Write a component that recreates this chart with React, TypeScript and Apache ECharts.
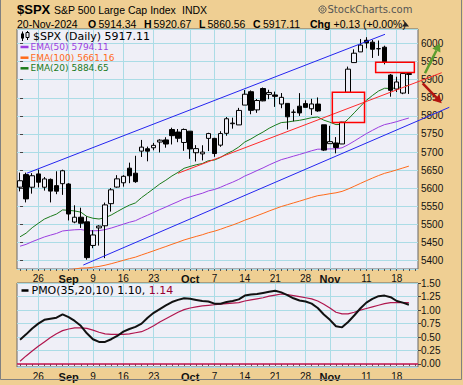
import React, { useEffect, useRef } from 'react';
import * as echarts from 'echarts';

// ---------- data ----------
const dates = ['2024-08-21','2024-08-22','2024-08-23','2024-08-26','2024-08-27','2024-08-28','2024-08-29','2024-08-30','2024-09-03','2024-09-04','2024-09-05','2024-09-06','2024-09-09','2024-09-10','2024-09-11','2024-09-12','2024-09-13','2024-09-16','2024-09-17','2024-09-18','2024-09-19','2024-09-20','2024-09-23','2024-09-24','2024-09-25','2024-09-26','2024-09-27','2024-09-30','2024-10-01','2024-10-02','2024-10-03','2024-10-04','2024-10-07','2024-10-08','2024-10-09','2024-10-10','2024-10-11','2024-10-14','2024-10-15','2024-10-16','2024-10-17','2024-10-18','2024-10-21','2024-10-22','2024-10-23','2024-10-24','2024-10-25','2024-10-28','2024-10-29','2024-10-30','2024-10-31','2024-11-01','2024-11-04','2024-11-05','2024-11-06','2024-11-07','2024-11-08','2024-11-11','2024-11-12','2024-11-13','2024-11-14','2024-11-15','2024-11-18','2024-11-19','2024-11-20'];

const open = [5603.09,5637.77,5602.89,5639.66,5602.89,5624.51,5607.30,5612.74,5611.85,5506.68,5520.08,5507.33,5442.07,5490.51,5496.42,5557.48,5603.34,5615.21,5655.51,5641.68,5702.63,5709.15,5711.90,5727.72,5733.65,5762.22,5755.36,5726.52,5757.73,5698.19,5695.00,5737.89,5737.80,5719.14,5751.80,5778.36,5775.09,5829.81,5866.74,5816.58,5875.62,5859.43,5857.82,5832.70,5834.50,5810.34,5826.75,5833.93,5819.68,5832.65,5775.34,5723.22,5725.15,5722.43,5864.89,5947.21,5976.76,6008.86,6003.60,5985.75,5989.68,5912.79,5874.17,5863.00,5914.34];
const high = [5643.22,5643.17,5641.82,5651.62,5631.18,5627.03,5646.95,5651.37,5614.09,5552.99,5546.30,5522.47,5484.20,5497.91,5560.41,5600.71,5636.27,5636.05,5670.81,5689.75,5733.57,5715.14,5725.36,5735.32,5741.03,5767.37,5763.78,5765.14,5757.73,5719.14,5718.78,5753.32,5739.34,5757.60,5796.80,5795.03,5822.13,5871.41,5870.36,5846.52,5878.46,5872.17,5866.92,5863.04,5834.85,5817.80,5862.82,5842.92,5847.19,5850.94,5775.34,5772.52,5741.43,5783.44,5936.14,5983.84,6012.45,6017.31,6009.92,6008.19,5993.88,5915.59,5908.12,5917.03,5920.67];
const low = [5591.37,5560.95,5585.16,5602.34,5593.48,5560.95,5583.71,5581.79,5511.14,5503.41,5490.45,5402.62,5434.49,5441.72,5406.96,5535.50,5601.65,5604.53,5614.05,5615.08,5686.42,5674.49,5704.94,5698.99,5712.06,5721.01,5727.34,5703.53,5681.28,5674.00,5677.02,5702.83,5686.85,5714.56,5745.02,5764.76,5775.09,5829.81,5804.48,5808.34,5840.25,5846.11,5824.83,5821.17,5762.41,5784.92,5799.98,5823.08,5802.29,5811.28,5702.86,5723.22,5696.51,5722.10,5864.89,5947.21,5976.76,5986.69,5960.08,5965.91,5942.28,5853.01,5865.95,5860.00,5860.56];
const close = [5620.85,5570.64,5634.61,5616.84,5625.80,5592.18,5591.96,5648.40,5528.93,5520.07,5503.41,5408.42,5471.05,5495.52,5554.13,5595.76,5626.02,5633.09,5634.58,5618.26,5713.64,5702.55,5718.57,5732.93,5722.26,5745.37,5738.17,5762.48,5708.75,5709.54,5699.94,5751.07,5695.94,5751.13,5792.04,5780.05,5815.03,5859.85,5815.26,5842.47,5841.47,5864.67,5853.98,5851.20,5797.42,5809.86,5808.12,5823.52,5832.92,5813.67,5705.45,5728.80,5712.69,5782.76,5929.04,5973.10,5995.54,6001.35,5983.99,5985.38,5949.17,5870.62,5893.62,5916.98,5917.11];

const ema20 = [5466.0,5476.0,5491.1,5503.1,5514.8,5522.2,5528.8,5540.2,5539.1,5537.3,5534.1,5522.1,5517.2,5515.1,5518.8,5526.1,5535.6,5544.9,5553.4,5559.6,5574.3,5586.5,5599.1,5611.8,5622.3,5634.0,5643.9,5655.2,5660.3,5665.0,5668.3,5676.2,5678.1,5685.1,5695.3,5703.4,5714.0,5727.9,5736.2,5746.3,5755.4,5765.8,5774.2,5781.5,5783.0,5785.6,5787.7,5791.1,5795.1,5796.9,5788.2,5782.5,5775.9,5776.6,5791.1,5808.4,5826.2,5842.9,5856.3,5868.6,5876.3,5875.8,5877.5,5881.3,5884.65];
const ema50 = [5440.0,5445.1,5452.5,5459.0,5465.5,5470.5,5475.2,5482.0,5483.9,5485.3,5486.0,5483.0,5482.5,5483.0,5485.8,5490.1,5495.4,5500.8,5506.1,5510.5,5518.5,5525.7,5533.3,5541.1,5548.2,5555.9,5563.1,5570.9,5576.3,5581.5,5586.2,5592.7,5596.7,5602.8,5610.2,5616.9,5624.6,5633.9,5641.0,5648.9,5656.4,5664.6,5672.0,5679.1,5683.7,5688.7,5693.4,5698.5,5703.7,5708.0,5707.9,5708.8,5708.9,5711.8,5720.3,5730.2,5740.6,5750.9,5760.0,5768.8,5775.9,5779.6,5784.1,5789.3,5794.11];
const ema100 = [5334.7,5339.4,5345.2,5350.6,5356.0,5360.7,5365.3,5370.9,5374.0,5377.0,5379.5,5380.0,5381.8,5384.1,5387.5,5391.6,5396.2,5400.9,5405.6,5409.8,5415.8,5421.5,5427.3,5433.3,5439.1,5445.2,5451.0,5457.2,5462.2,5467.0,5471.6,5477.2,5481.5,5486.8,5492.9,5498.5,5504.9,5511.9,5517.9,5524.3,5530.6,5537.3,5543.5,5549.6,5554.5,5559.5,5564.4,5569.6,5574.8,5579.5,5582.0,5585.0,5587.5,5591.4,5598.0,5605.5,5613.2,5620.8,5628.1,5635.1,5641.3,5645.8,5650.8,5656.0,5661.16];

const pmo = [0.45,0.55,0.66,0.75,0.82,0.84,0.86,0.92,0.87,0.80,0.71,0.57,0.46,0.41,0.41,0.46,0.52,0.60,0.65,0.69,0.75,0.86,0.95,1.02,1.09,1.15,1.19,1.22,1.21,1.19,1.17,1.16,1.12,1.12,1.15,1.17,1.20,1.27,1.29,1.30,1.32,1.34,1.36,1.33,1.28,1.22,1.18,1.16,1.12,1.04,0.92,0.82,0.70,0.68,0.78,0.90,1.03,1.14,1.21,1.26,1.27,1.24,1.17,1.14,1.10];
const pmoSignal = [0.05,0.15,0.24,0.33,0.41,0.49,0.56,0.62,0.65,0.67,0.67,0.66,0.63,0.59,0.56,0.55,0.55,0.55,0.56,0.58,0.60,0.65,0.71,0.78,0.84,0.90,0.96,1.01,1.04,1.06,1.08,1.09,1.10,1.11,1.12,1.13,1.14,1.17,1.19,1.21,1.23,1.26,1.28,1.30,1.29,1.27,1.25,1.23,1.21,1.17,1.11,1.04,0.96,0.93,0.93,0.96,1.00,1.03,1.06,1.09,1.12,1.14,1.14,1.14,1.14];

const tickDates = ['2024-08-26','2024-09-03','2024-09-09','2024-09-16','2024-09-23','2024-10-01','2024-10-07','2024-10-14','2024-10-21','2024-10-28','2024-11-01','2024-11-11','2024-11-18'];
const tickLabels = ['26','Sep','9','16','23','Oct','7','14','21','28','Nov','11','18'];
const monthLabels = ['Sep','Oct','Nov'];

// annotations in data space: [dayIndex, price]
const upperChannel = [[1.1, 5641.4], [60.07, 6025.4]];
const lowerChannel = [[10.41, 5388], [70.65, 5823.7]];
const redTrend = [[26.0, 5641.4], [69.4, 5919.3]];
const boxA = [[51.4, 5865], [56.7, 5782]];
const boxB = [[58.53, 5948], [64.9, 5920]];
const upArrow = [[66.65, 5917.7], [69.12, 6000.5]];
const downArrow = [[66.27, 5890], [69.4, 5834.8]];

const header = { symbol: '$SPX', name: 'S&P 500 Large Cap Index', exch: 'INDX', date: '20-Nov-2024', o: '5914.34', h: '5920.67', l: '5860.56', c: '5917.11', chg: '+0.13 (+0.00%)', site: 'StockCharts.com' };

// ---------- styles ----------
const TAN = '#EFCF93';
const PLOT = '#EFEFF7';
const GRIDC = '#ABDCE6';
const C_EMA50 = '#9B3DE0';
const C_EMA100 = '#FF6A1A';
const C_EMA20 = '#1A7A1A';
const C_BLUE = '#2525F0';
const C_RED = '#FF2A2A';
const C_SIG = '#B0164E';
const AXF = 'Liberation Sans';

const cats = [...dates, ''];
const labelByIndex = new Map<number, string>();
tickDates.forEach((d, i) => labelByIndex.set(dates.indexOf(d), tickLabels[i]));

function xAxisCfg(gridIndex: number) {
  return {
    type: 'category', gridIndex, data: cats, boundaryGap: true,
    axisLine: { show: false },
    axisTick: { show: true, alignWithLabel: true, interval: 0, length: 2, lineStyle: { color: '#555' } },
    axisLabel: {
      interval: (i: number) => labelByIndex.has(i),
      formatter: (_v: string, i: number) => {
        const t = labelByIndex.get(i) || '';
        return monthLabels.includes(t) ? `{m|${t}}` : t;
      },
      margin: 4, color: '#111', fontFamily: AXF, fontSize: 10,
      rich: { m: { fontFamily: AXF, fontSize: 11, fontWeight: 'bold', color: '#111' } },
    },
    splitLine: { show: true, interval: (i: number) => labelByIndex.has(i), alignWithLabel: true, lineStyle: { color: GRIDC, width: 1 } },
  };
}

const option: any = {
  animation: false,
  backgroundColor: TAN,
  grid: [
    { left: 17, top: 29, width: 401, height: 240, show: true, backgroundColor: PLOT, borderColor: '#666', borderWidth: 1 },
    { left: 17, top: 283, width: 401, height: 84, show: true, backgroundColor: PLOT, borderColor: '#666', borderWidth: 1 },
  ],
  xAxis: [
    xAxisCfg(0),
    xAxisCfg(1),
    { type: 'value', gridIndex: 0, min: -0.5, max: 65.5, show: false },
  ],
  yAxis: [
    {
      type: 'value', gridIndex: 0, position: 'right', min: 5377, max: 6040, minInterval: 50, maxInterval: 50,
      axisLine: { show: false },
      axisTick: { show: true, length: 3, lineStyle: { color: '#444' } },
      axisLabel: { margin: 3, showMinLabel: false, showMaxLabel: false, color: '#111', fontFamily: AXF, fontSize: 10,
        formatter: (v: number) => (Math.abs(v % 50) < 1e-6 ? String(v) : '') },
      splitLine: { show: true, lineStyle: { color: GRIDC, width: 1 } },
    },
    {
      type: 'value', gridIndex: 1, position: 'right', min: -0.056, max: 1.504, minInterval: 0.25, maxInterval: 0.25,
      axisLine: { show: false },
      axisTick: { show: true, length: 3, lineStyle: { color: '#444' } },
      axisLabel: { margin: 3, showMinLabel: false, showMaxLabel: false, color: '#111', fontFamily: AXF, fontSize: 10,
        formatter: (v: number) => (Math.abs((v * 4) - Math.round(v * 4)) < 1e-6 ? v.toFixed(2) : '') },
      splitLine: { show: true, lineStyle: { color: GRIDC, width: 1 } },
    },
  ],
  series: [
    { type: 'line', name: 'EMA100', xAxisIndex: 0, yAxisIndex: 0, data: ema100, symbol: 'none', z: 2, lineStyle: { color: C_EMA100, width: 1 } },
    { type: 'line', name: 'EMA50', xAxisIndex: 0, yAxisIndex: 0, data: ema50, symbol: 'none', z: 2, lineStyle: { color: C_EMA50, width: 1 } },
    { type: 'line', name: 'EMA20', xAxisIndex: 0, yAxisIndex: 0, data: ema20, symbol: 'none', z: 2, lineStyle: { color: C_EMA20, width: 1 } },
    {
      type: 'candlestick', name: '$SPX', xAxisIndex: 0, yAxisIndex: 0, z: 3, barWidth: 5,
      data: dates.map((_d, i) => [open[i], close[i], low[i], high[i]]),
      itemStyle: { color: PLOT, color0: '#000', borderColor: '#000', borderColor0: '#000', borderWidth: 1 },
    },
    {
      type: 'line', name: 'Signal', xAxisIndex: 1, yAxisIndex: 1, data: pmoSignal, symbol: 'none', z: 2,
      lineStyle: { color: C_SIG, width: 1.2 },
      markLine: { silent: true, symbol: 'none', label: { show: false }, lineStyle: { color: '#C8104A', width: 1.6, type: 'solid' }, data: [{ yAxis: 0 }] },
    },
    { type: 'line', name: 'PMO', xAxisIndex: 1, yAxisIndex: 1, data: pmo, symbol: 'none', z: 3, lineStyle: { color: '#111', width: 2 } },
  ],
};

function txt(x: number, y: number, text: string, size: number, opts: any = {}) {
  return {
    type: 'text', x, y, silent: true, z: 20,
    style: {
      text, fill: opts.fill || '#000', fontSize: size, fontFamily: opts.family || AXF,
      fontWeight: opts.bold ? 'bold' : 'normal', align: 'left', verticalAlign: 'middle',
    },
  };
}

export default function App() {
  const ref = useRef<HTMLDivElement>(null);
  useEffect(() => {
    const chart = echarts.init(ref.current!, null, { renderer: 'svg' });
    chart.setOption(option);
    const px = (p: number[]) => chart.convertToPixel({ xAxisIndex: 2, yAxisIndex: 0 } as any, p) as number[];

    const els: any[] = [];
    // outer frame (left, right, bottom)
    els.push({ type: 'polyline', silent: true, z: 20, shape: { points: [[0.5, 0], [0.5, 379.5], [461.5, 379.5], [461.5, 0]] }, style: { fill: 'none', stroke: '#808080', lineWidth: 1 } });
    // header
    els.push(txt(17, 9, header.symbol, 13, { bold: true }));
    els.push(txt(54, 9.5, header.name, 10.5));
    els.push(txt(182, 9.5, header.exch, 10.5));
    els.push({ type: 'circle', silent: true, z: 20, shape: { cx: 322.5, cy: 9.5, r: 3.6 }, style: { fill: 'none', stroke: '#555', lineWidth: 1 } });
    els.push({ type: 'circle', silent: true, z: 20, shape: { cx: 322.5, cy: 9.5, r: 1.6 }, style: { fill: 'none', stroke: '#555', lineWidth: 1 } });
    els.push(txt(327.5, 9.5, header.site, 10, { fill: '#555', family: 'DejaVu Sans' }));
    const y2 = 24;
    els.push(txt(17, y2, header.date, 10.5));
    els.push(txt(88, y2, 'O', 10.5, { bold: true }));
    els.push(txt(98.5, y2, header.o, 10.5));
    els.push(txt(144, y2, 'H', 10.5, { bold: true }));
    els.push(txt(153.5, y2, header.h, 10.5));
    els.push(txt(199, y2, 'L', 10.5, { bold: true }));
    els.push(txt(207.5, y2, header.l, 10.5));
    els.push(txt(253, y2, 'C', 10.5, { bold: true }));
    els.push(txt(263, y2, header.c, 10.5));
    els.push(txt(310, y2, 'Chg', 10.5, { bold: true }));
    els.push(txt(333.5, y2, header.chg, 10.5));
    els.push({ type: 'polygon', silent: true, z: 20, shape: { points: [[402, 26.5], [409, 26.5], [405.5, 22]] }, style: { fill: '#222' } });

    // price legend
    els.push({ type: 'line', silent: true, z: 20, shape: { x1: 22.5, y1: 31.5, x2: 22.5, y2: 41 }, style: { stroke: '#000', lineWidth: 1 } });
    els.push({ type: 'rect', silent: true, z: 20, shape: { x: 21, y: 33.5, width: 3, height: 5 }, style: { fill: '#000' } });
    els.push({ type: 'line', silent: true, z: 20, shape: { x1: 27.5, y1: 31, x2: 27.5, y2: 40 }, style: { stroke: '#000', lineWidth: 1 } });
    els.push({ type: 'rect', silent: true, z: 20, shape: { x: 26, y: 32.5, width: 3, height: 5 }, style: { fill: PLOT, stroke: '#000', lineWidth: 1 } });
    els.push(txt(33, 36, '$SPX (Daily) ' + close[close.length - 1].toFixed(2), 11, { family: 'DejaVu Sans' }));
    const legRows = [
      { y: 47, c: C_EMA50, t: 'EMA(50) ' + ema50[ema50.length - 1].toFixed(2) },
      { y: 57.7, c: C_EMA100, t: 'EMA(100) ' + ema100[ema100.length - 1].toFixed(2) },
      { y: 68.3, c: C_EMA20, t: 'EMA(20) ' + ema20[ema20.length - 1].toFixed(2) },
    ];
    legRows.forEach((r) => {
      els.push({ type: 'line', silent: true, z: 20, shape: { x1: 20.5, y1: r.y, x2: 28.5, y2: r.y }, style: { stroke: r.c, lineWidth: 2.5 } });
      els.push(txt(30.5, r.y, r.t, 9, { family: 'DejaVu Sans', fill: r.c }));
    });

    // PMO legend
    els.push({ type: 'line', silent: true, z: 20, shape: { x1: 21.5, y1: 290.5, x2: 28.5, y2: 290.5 }, style: { stroke: '#000', lineWidth: 2.5 } });
    els.push({
      type: 'text', x: 31.5, y: 290.5, silent: true, z: 20,
      style: {
        text: `{a|PMO(35,20,10) ${pmo[pmo.length - 1].toFixed(2)}, }{b|${pmoSignal[pmoSignal.length - 1].toFixed(2)}}`,
        verticalAlign: 'middle', align: 'left',
        rich: {
          a: { fill: '#000', fontSize: 11, fontFamily: 'DejaVu Sans' },
          b: { fill: '#990033', fontSize: 11, fontFamily: 'DejaVu Sans' },
        },
      },
    });

    // annotations
    const seg = (pts: number[][], color: string, w: number) => {
      const a = px(pts[0]); const b = px(pts[1]);
      els.push({ type: 'line', silent: true, z: 15, shape: { x1: a[0], y1: a[1], x2: b[0], y2: b[1] }, style: { stroke: color, lineWidth: w } });
    };
    seg(upperChannel, C_BLUE, 1);
    seg(lowerChannel, C_BLUE, 1);
    seg(redTrend, C_RED, 1);
    const box = (pts: number[][]) => {
      const a = px(pts[0]); const b = px(pts[1]);
      els.push({ type: 'rect', silent: true, z: 15, shape: { x: Math.min(a[0], b[0]), y: Math.min(a[1], b[1]), width: Math.abs(b[0] - a[0]), height: Math.abs(b[1] - a[1]) }, style: { fill: 'none', stroke: '#FF0000', lineWidth: 1.5 } });
    };
    box(boxA);
    box(boxB);
    const arrow = (pts: number[][], color: string) => {
      const a = px(pts[0]); const b = px(pts[1]);
      const dx = b[0] - a[0]; const dy = b[1] - a[1];
      const len = Math.hypot(dx, dy);
      const ux = dx / len; const uy = dy / len;
      const hl = 8; const hw = 4.5;
      const bx = b[0] - ux * hl; const by = b[1] - uy * hl;
      els.push({ type: 'line', silent: true, z: 16, shape: { x1: a[0], y1: a[1], x2: bx, y2: by }, style: { stroke: color, lineWidth: 2.5 } });
      els.push({ type: 'polygon', silent: true, z: 16, shape: { points: [[b[0], b[1]], [bx - uy * hw, by + ux * hw], [bx + uy * hw, by - ux * hw]] }, style: { fill: color } });
    };
    arrow(upArrow, '#5C9E2E');
    arrow(downArrow, '#B3140F');

    chart.setOption({ graphic: els });
    return () => chart.dispose();
  }, []);
  return <div ref={ref} style={{ position: 'absolute', left: 0, top: 0, width: 463, height: 385 }} />;
}
